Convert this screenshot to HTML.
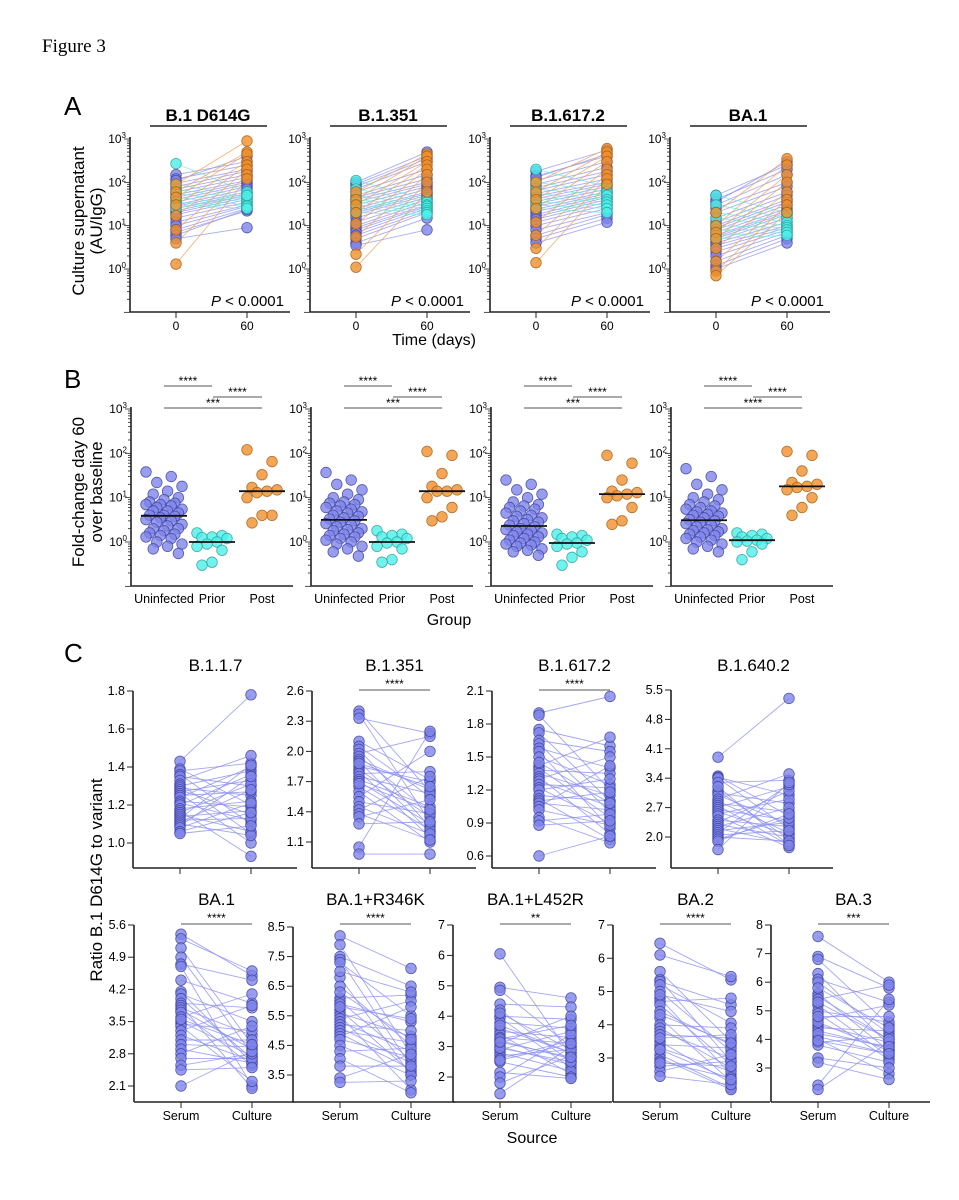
<!DOCTYPE html>
<html><head><meta charset="utf-8"><style>
body{margin:0;background:#fff}
svg{display:block;font-family:"Liberation Sans",sans-serif}
</style></head><body>
<svg id="fig" width="959" height="1200" viewBox="0 0 959 1200">
<text x="42" y="52" font-family="Liberation Serif,serif" font-size="19">Figure 3</text>
<text x="64" y="115" font-size="26">A</text>
<text x="64" y="388" font-size="26">B</text>
<text x="64" y="662" font-size="26">C</text>
<text transform="translate(84,221) rotate(-90)" text-anchor="middle" font-size="17">Culture supernatant</text>
<text transform="translate(102,221) rotate(-90)" text-anchor="middle" font-size="17">(AU/IgG)</text>
<text x="434" y="345" text-anchor="middle" font-size="16">Time (days)</text>
<text transform="translate(84,492) rotate(-90)" text-anchor="middle" font-size="17">Fold-change day 60</text>
<text transform="translate(102,492) rotate(-90)" text-anchor="middle" font-size="17">over baseline</text>
<text x="449" y="625" text-anchor="middle" font-size="16">Group</text>
<text transform="translate(102,880) rotate(-90)" text-anchor="middle" font-size="17">Ratio  B.1 D614G to variant</text>
<text x="532" y="1143" text-anchor="middle" font-size="16">Source</text>
</svg>
<script>
// ---- Panel A data (group: u=uninfected, p=prior, o=post) ----
const aGroups = ['u','u','u','u','u','u','u','u','u','u','u','u','u','u','u','u','u','u','u','u','u','u','u','u','p','p','p','p','p','p','p','p','o','o','o','o','o','o','o','o'];
const aTitles = ['B.1 D614G','B.1.351','B.1.617.2','BA.1'];
const aD614G_d0 = [150,120,95,80,70,60,52,45,40,35,30,28,25,22,20,18,15,12,10,8,7,6,5,110, 270,90,70,55,45,35,30,25, 90,60,45,30,17,8,4,1.3];
const aD614G_d60 = [300,250,200,180,150,130,110,100,90,80,70,60,55,50,45,40,35,30,28,25,22,24,9,400, 60,45,40,35,30,28,25,50, 900,500,450,300,250,200,150,120];
const aB1351_d0 = [100,90,70,60,50,45,40,35,30,25,22,20,18,15,12,10,9,8,7,6,5,4,3.5,80, 110,70,50,40,35,30,25,20, 60,40,30,20,11,5.5,2.2,1.1];
const aB1351_d60 = [500,400,300,200,150,120,100,90,80,70,60,55,50,45,40,35,30,28,25,22,20,15,8,350, 40,35,30,28,25,22,20,18, 450,400,300,250,200,150,100,60];
const aB16172_d0 = [180,140,110,90,75,65,55,48,42,36,32,28,24,21,18,16,14,12,10,8,6,5,4,130, 200,100,70,55,45,35,30,25, 100,60,40,25,12,6,3,1.4];
const aB16172_d60 = [550,400,300,220,180,150,120,100,90,80,70,60,55,50,45,40,35,30,25,20,18,15,12,450, 80,60,50,40,35,30,25,20, 600,500,400,300,200,150,120,90];
const aBA1_d0 = [50,40,30,25,20,15,12,10,9,8,7,6,5.5,5,4.5,4,3.5,3,2.5,2,1.5,1.2,1,35, 50,30,20,15,10,8,6,5, 20,10,7,5,3,1.5,0.9,0.7];
const aBA1_d60 = [250,200,150,100,80,60,50,40,35,30,25,22,20,18,15,12,10,9,8,7,6,5,4,300, 20,15,12,10,9,8,7,6, 350,250,150,100,60,40,30,20];
const aTimeTicks = ['0','60'];
const aPValue = 'P < 0.0001';
// ---- Panel B data ----
const bGroupLabels = ['Uninfected','Prior','Post'];
const b1_uninf = [38,30,22,18,14,12,10,9,8,7.5,7,7,6.5,6,5.5,5,5,4.5,4,4,3.8,3.5,3.2,3,2.8,2.5,2.3,2,2,1.8,1.6,1.5,1.4,1.3,1.2,1,0.9,0.8,0.7,0.55];
const b1_prior = [1.6,1.4,1.3,1.25,1.2,1.0,0.9,0.8,0.65,0.35,0.3];
const b1_post = [120,65,33,17,15,14,13,10,4,4,2.7];
const b2_uninf = [37,25,20,15,12,10,9,8,7.5,7,6.5,6,5.5,5,4.8,4.5,4,3.8,3.5,3.3,3,2.8,2.6,2.4,2.2,2,1.9,1.8,1.6,1.5,1.4,1.3,1.2,1.1,1,0.9,0.8,0.7,0.6,0.48];
const b2_prior = [1.8,1.5,1.4,1.3,1.2,1.0,0.95,0.8,0.7,0.4,0.35];
const b2_post = [110,90,35,18,15,14,14,10,6,3.7,3];
const b3_uninf = [25,20,15,12,10,8,7,6.5,6,5.5,5,4.5,4,3.8,3.5,3.2,3,2.8,2.6,2.4,2.2,2,1.9,1.8,1.7,1.6,1.5,1.4,1.3,1.2,1.1,1,0.95,0.9,0.85,0.8,0.7,0.65,0.6,0.5];
const b3_prior = [1.5,1.4,1.3,1.2,1.1,0.95,0.9,0.8,0.6,0.45,0.3];
const b3_post = [90,60,25,14,13,12,11,10,6,3,2.5];
const b4_uninf = [45,30,20,15,12,10,9,8,7,6.5,6,5.5,5,4.8,4.5,4.2,4,3.8,3.5,3.2,3,2.8,2.6,2.4,2.2,2,1.9,1.8,1.7,1.6,1.5,1.4,1.3,1.2,1.1,1,0.9,0.8,0.7,0.6];
const b4_prior = [1.6,1.5,1.4,1.3,1.2,1.1,1.05,1.0,0.9,0.6,0.4];
const b4_post = [110,90,40,22,20,18,17,15,10,6,4];
const bSig = [['****','****','***'],['****','****','***'],['****','****','***'],['****','****','****']];
// ---- Panel C data ----
const cTitles = ['B.1.1.7','B.1.351','B.1.617.2','B.1.640.2','BA.1','BA.1+R346K','BA.1+L452R','BA.2','BA.3'];
const cSig = ['','****','****','','****','****','**','****','***'];
const cSourceLabels = ['Serum','Culture'];
const c1_serum = [1.43,1.39,1.38,1.36,1.35,1.33,1.31,1.30,1.29,1.28,1.27,1.26,1.25,1.24,1.22,1.21,1.20,1.18,1.17,1.16,1.15,1.14,1.13,1.12,1.11,1.10,1.09,1.08,1.06,1.05];
const c1_culture = [1.78,1.20,1.42,1.10,1.30,1.46,1.05,1.38,1.25,1.15,1.33,1.00,1.27,1.40,1.19,1.12,1.36,1.22,0.93,1.31,1.06,1.17,1.41,1.13,1.28,1.04,1.35,1.21,1.16,1.09];
const c2_serum = [2.40,2.37,2.33,2.10,2.05,2.02,1.98,1.95,1.92,1.90,1.85,1.82,1.80,1.78,1.75,1.72,1.70,1.65,1.60,1.55,1.50,1.45,1.42,1.38,1.35,1.28,1.05,0.98,1.88,1.68];
const c2_culture = [1.60,1.30,2.18,1.72,1.55,1.25,2.15,1.40,1.62,1.20,1.70,1.35,1.15,1.80,1.58,1.45,1.28,1.22,1.10,2.00,1.38,1.18,1.75,1.12,1.52,1.30,2.20,0.98,1.65,1.42];
const c3_serum = [1.90,1.88,1.75,1.72,1.65,1.62,1.58,1.55,1.50,1.42,1.40,1.38,1.35,1.32,1.30,1.28,1.25,1.22,1.20,1.15,1.12,1.10,1.08,1.05,1.02,0.95,0.92,0.88,0.60,1.45];
const c3_culture = [2.05,1.20,1.60,1.10,1.55,1.00,1.40,0.85,1.25,1.68,0.95,1.35,1.15,0.80,1.50,1.05,1.22,0.90,1.30,1.10,0.75,1.18,1.02,1.42,0.88,0.72,0.98,0.92,0.78,1.08];
const c4_serum = [3.9,3.45,3.42,3.40,3.30,3.10,3.05,3.00,2.90,2.85,2.80,2.75,2.70,2.65,2.60,2.55,2.50,2.40,2.35,2.30,2.25,2.20,2.15,2.10,2.05,2.00,1.95,1.90,1.70,3.20];
const c4_culture = [5.3,2.5,3.0,2.2,3.35,1.95,2.8,2.3,3.5,2.1,2.6,1.8,3.2,2.4,2.05,2.9,1.75,2.25,3.1,2.0,2.7,1.85,2.35,3.25,2.15,1.9,2.45,2.55,3.3,1.8];
const c5_serum = [5.4,5.3,5.1,4.9,4.75,4.7,4.4,4.15,4.1,4.0,3.9,3.85,3.8,3.75,3.7,3.6,3.5,3.45,3.4,3.3,3.2,3.1,3.0,2.9,2.8,2.7,2.55,2.45,2.1,3.55];
const c5_culture = [4.5,4.6,3.0,2.8,4.4,2.1,3.9,2.6,3.5,2.7,3.8,2.05,3.2,2.9,2.55,4.1,2.75,3.3,2.2,3.85,2.65,3.1,2.95,2.6,3.4,2.7,2.8,2.5,2.85,3.0];
const c6_serum = [8.2,7.9,7.5,7.4,7.3,6.8,6.5,6.1,6.0,5.9,5.7,5.6,5.5,5.4,5.3,5.2,5.1,5.0,4.9,4.8,4.7,4.5,4.3,4.05,3.8,3.4,3.25,5.8,6.3,7.0];
const c6_culture = [7.1,4.2,6.5,3.8,5.5,3.5,4.5,6.2,4.0,5.3,3.6,4.8,3.0,6.0,4.3,5.0,3.9,4.6,3.7,5.8,4.1,3.5,4.4,2.9,3.8,4.2,3.3,5.4,4.7,6.3];
const c7_serum = [6.05,4.95,4.85,4.4,4.2,4.0,3.95,3.8,3.6,3.5,3.4,3.3,3.2,3.1,3.0,2.9,2.8,2.7,2.6,2.5,2.15,2.0,1.8,1.45,3.7,3.25,2.95,4.1,2.55,3.15];
const c7_culture = [2.7,4.6,3.0,4.3,2.5,3.9,2.3,3.6,2.8,3.3,2.1,3.1,2.6,4.0,2.4,3.5,2.2,2.9,3.2,2.0,1.95,3.4,2.7,3.0,2.8,3.7,2.5,2.9,3.1,2.65];
const c8_serum = [6.45,6.1,5.6,5.35,5.3,5.2,5.0,4.8,4.7,4.6,4.4,4.2,4.0,3.9,3.8,3.7,3.5,3.4,3.3,3.1,3.0,2.9,2.75,2.6,2.45,3.6,4.3,4.9,3.25,2.85];
const c8_culture = [5.35,5.45,3.5,2.9,4.6,4.05,3.2,2.5,4.8,2.8,3.4,2.3,3.9,2.7,3.0,3.6,2.25,3.3,2.6,2.1,2.05,2.4,2.9,3.1,2.2,3.7,3.45,4.4,2.35,2.75];
const c9_serum = [7.6,6.9,6.8,6.3,6.1,6.0,5.6,5.5,5.4,5.2,5.0,4.9,4.7,4.5,4.4,4.3,4.1,4.0,3.9,3.8,3.35,3.2,2.4,2.25,5.8,4.6,4.8,5.3,4.2,3.95];
const c9_culture = [6.0,5.8,4.5,3.8,5.3,4.2,3.6,4.0,5.9,3.4,4.6,3.3,5.2,3.9,4.3,3.7,3.5,2.8,4.1,3.2,3.0,2.6,5.4,3.9,4.4,3.6,4.8,4.0,3.75,3.5];
const c1_ticks=[1.0,1.2,1.4,1.6,1.8], c2_ticks=[1.1,1.4,1.7,2.0,2.3,2.6], c3_ticks=[0.6,0.9,1.2,1.5,1.8,2.1], c4_ticks=[2.0,2.7,3.4,4.1,4.8,5.5];
const c5_ticks=[2.1,2.8,3.5,4.2,4.9,5.6], c6_ticks=[3.5,4.5,5.5,6.5,7.5,8.5], c7_ticks=[2,3,4,5,6,7], c8_ticks=[3,4,5,6,7], c9_ticks=[3,4,5,6,7,8];

const svg=document.getElementById('fig');
const NS='http://www.w3.org/2000/svg';
function mk(tag,attrs,parent){const e=document.createElementNS(NS,tag);for(const k in attrs)e.setAttribute(k,attrs[k]);(parent||svg).appendChild(e);return e;}
const COL={u:'#7e84ea',p:'#4ef0e8',o:'#f0902a'};
const STK={u:'#3a3f9a',p:'#2a9a96',o:'#a55a10'};
const LINE={u:'#8c90f0',p:'#6ee8e4',o:'#f0a050'};

function logAxis(g,ax,yTop3,y0,bottom,right){
  const per=(y0-yTop3)/3;
  const sy=v=>y0-Math.log10(v)*per;
  const l1=mk('line',{x1:ax,y1:yTop3-2,x2:ax,y2:bottom,stroke:'#222','stroke-width':1.6},g);
  
  
  const l2=mk('line',{x1:ax,y1:bottom,x2:right,y2:bottom,stroke:'#222','stroke-width':1.6},g);
  
  
  for(let d=-1;d<3;d++){for(let m=1;m<10;m++){const v=m*Math.pow(10,d);if(v<0.1)continue;
    mk('line',{x1:ax-(m===1?6:3),y1:sy(v),x2:ax,y2:sy(v),stroke:'#222','stroke-width':0.8},g);}}
  mk('line',{x1:ax-6,y1:sy(1000),x2:ax,y2:sy(1000),stroke:'#222','stroke-width':0.8},g);
  for(let d=0;d<=3;d++){const t=mk('text',{x:ax-4,y:sy(Math.pow(10,d))+4,'text-anchor':'end','font-size':12},g);
    
    
    t.textContent='10';const s=mk('tspan',{dy:-5,'font-size':8},t);s.textContent=String(d);}
  return sy;
}
function dot(g,x,y,grp,r){return mk('circle',{cx:x,cy:y,r:r||5.3,fill:COL[grp],'fill-opacity':0.8,stroke:STK[grp],'stroke-width':0.8,'stroke-opacity':0.8},g);}

// ---- Panel A ----
const aD0=[aD614G_d0,aB1351_d0,aB16172_d0,aBA1_d0], aD60=[aD614G_d60,aB1351_d60,aB16172_d60,aBA1_d60];
for(let p=0;p<4;p++){
  const ox=p*180, ax=130+ox;
  const g=mk('g',{});
  
  
  const sy=logAxis(g,ax,139,269,312,290+ox);
  const x0=176+ox,x1=247+ox;
  aTimeTicks.forEach((t,i)=>{const x=i?x1:x0;mk('line',{x1:x,y1:312,x2:x,y2:318,stroke:'#222','stroke-width':1},g);
    const tx=mk('text',{x:x,y:330,'text-anchor':'middle','font-size':12},g);tx.textContent=t;
    
    });
  const tt=mk('text',{x:208+ox,y:121,'text-anchor':'middle','font-size':17,'font-weight':'bold'},g);tt.textContent=aTitles[p];
  
  
  mk('line',{x1:150+ox,y1:126,x2:267+ox,y2:126,stroke:'#222','stroke-width':1.5},g);
  const pv=mk('text',{x:284+ox,y:306,'text-anchor':'end','font-size':15},g);
  const it=mk('tspan',{'font-style':'italic'},pv);it.textContent='P';const rest=mk('tspan',{},pv);rest.textContent=aPValue.slice(1);
  
  
  const d0=aD0[p],d60=aD60[p];
  d0.forEach((v,i)=>{const ln=mk('line',{x1:x0,y1:sy(v),x2:x1,y2:sy(d60[i]),stroke:LINE[aGroups[i]],'stroke-width':0.9,'stroke-opacity':0.75},g);
    
    });
  d0.forEach((v,i)=>{const c=dot(g,x0,sy(v),aGroups[i]);
    
    const c2=dot(g,x1,sy(d60[i]),aGroups[i]);
    });
}

// ---- Panel B ----
const bData=[[b1_uninf,b1_prior,b1_post],[b2_uninf,b2_prior,b2_post],[b3_uninf,b3_prior,b3_post],[b4_uninf,b4_prior,b4_post]];
const bKeys=['u','p','o'];
function median(a){const s=[...a].sort((x,y)=>x-y);const n=s.length;return n%2?s[(n-1)/2]:(s[n/2-1]+s[n/2])/2;}
for(let p=0;p<4;p++){
  const ox=p*180, ax=131+ox;
  const g=mk('g',{});
  
  
  const sy=logAxis(g,ax,409,542,586,293+ox);
  const gx=[164+ox,212+ox,262+ox];
  bGroupLabels.forEach((l,i)=>{const t=mk('text',{x:gx[i],y:603,'text-anchor':'middle','font-size':12.5},g);t.textContent=l;
    
    });
  const br=[[gx[0],gx[1],386],[gx[1]+1,gx[2],397],[gx[0],gx[2],408]];
  br.forEach((b,i)=>{mk('line',{x1:b[0],y1:b[2],x2:b[1],y2:b[2],stroke:'#555','stroke-width':1},g);
    const t=mk('text',{x:(b[0]+b[1])/2,y:b[2]-1,'text-anchor':'middle','font-size':12},g);t.textContent=bSig[p][i];
    
    });
  bData[p].forEach((arr,k)=>{
    arr.forEach((v,i)=>{const off=k===0?(((i*7)%11)-5)*3.6:(((i*5)%7)-3)*5;
      const c=dot(g,gx[k]+off,sy(v),bKeys[k]);
      
      });
    const m=median(arr);
    const ml=mk('line',{x1:gx[k]-23,y1:sy(m),x2:gx[k]+23,y2:sy(m),stroke:'#111','stroke-width':1.8},g);
    
    
  });
}

// ---- Panel C ----
const cSer=[c1_serum,c2_serum,c3_serum,c4_serum,c5_serum,c6_serum,c7_serum,c8_serum,c9_serum];
const cCul=[c1_culture,c2_culture,c3_culture,c4_culture,c5_culture,c6_culture,c7_culture,c8_culture,c9_culture];
const cTicks=[c1_ticks,c2_ticks,c3_ticks,c4_ticks,c5_ticks,c6_ticks,c7_ticks,c8_ticks,c9_ticks];
const cLayout=[[133,691,843,868,297],[312,691,842,868,476],[492,691,856,868,656],[671,690,837,868,833],
  [134,925,1086,1102,294],[293,927,1075,1102,455],[453,925,1077,1102,612],[613,925,1058,1102,770],[771,925,1068,1102,930]];
for(let p=0;p<9;p++){
  const [ax,tp,bp,by,rx]=cLayout[p];
  const ticks=cTicks[p];const tMax=ticks[ticks.length-1],tMin=ticks[0];
  const sy=v=>bp+(v-tMin)*(tp-bp)/(tMax-tMin);
  const g=mk('g',{});
  
  
  const ya=mk('line',{x1:ax,y1:tp,x2:ax,y2:by,stroke:'#222','stroke-width':1.6},g);
  
  
  const xa=mk('line',{x1:ax,y1:by,x2:rx,y2:by,stroke:'#222','stroke-width':1.6},g);
  
  
  const dec=p<6?1:0;
  ticks.forEach(t=>{mk('line',{x1:ax-6,y1:sy(t),x2:ax,y2:sy(t),stroke:'#222','stroke-width':1},g);
    const tx=mk('text',{x:ax-8,y:sy(t)+4,'text-anchor':'end','font-size':12.5},g);tx.textContent=t.toFixed(dec);
    
    });
  const sx=ax+47,cx=ax+118;
  [sx,cx].forEach((x,i)=>{mk('line',{x1:x,y1:by,x2:x,y2:by+6,stroke:'#222','stroke-width':1},g);
    if(p>=4){const t=mk('text',{x:x,y:by+18,'text-anchor':'middle','font-size':12.5},g);t.textContent=cSourceLabels[i];
      
      }});
  const top=p<4?671:905;
  const tt=mk('text',{x:(sx+cx)/2,y:top,'text-anchor':'middle','font-size':17},g);tt.textContent=cTitles[p];
  
  
  if(cSig[p]){const yb=p<4?690:924;mk('line',{x1:sx,y1:yb,x2:cx,y2:yb,stroke:'#555','stroke-width':1},g);
    const st=mk('text',{x:(sx+cx)/2,y:yb-2,'text-anchor':'middle','font-size':12},g);st.textContent=cSig[p];
    
    }
  const s=cSer[p],c=cCul[p];
  s.forEach((v,i)=>{const ln=mk('line',{x1:sx,y1:sy(v),x2:cx,y2:sy(c[i]),stroke:'#8c90f0','stroke-width':0.9,'stroke-opacity':0.8},g);
    
    });
  s.forEach((v,i)=>{const a=dot(g,sx,sy(v),'u');
    
    const b=dot(g,cx,sy(c[i]),'u');
    });
}
</script>
</body></html>
